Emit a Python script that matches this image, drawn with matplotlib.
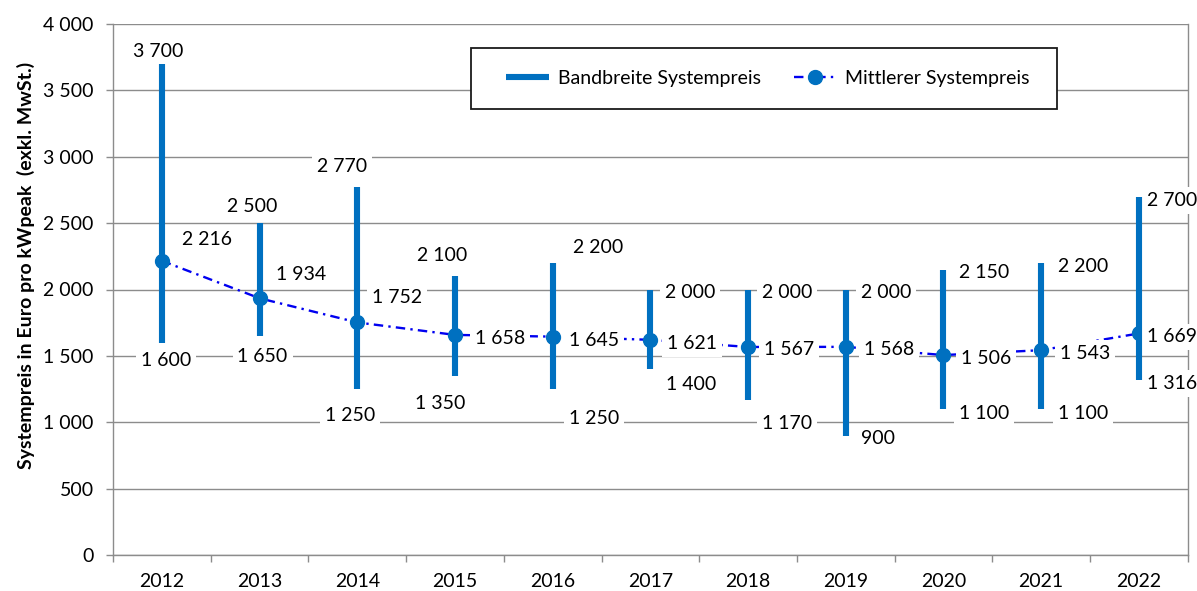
import matplotlib
matplotlib.use("Agg")
import matplotlib.pyplot as plt
from matplotlib.patches import Rectangle
from matplotlib.lines import Line2D
from matplotlib.ticker import FixedLocator, FuncFormatter

# Data: PV system prices in EUR per kWpeak (excl. VAT)
years = ["2012", "2013", "2014", "2015", "2016", "2017", "2018", "2019", "2020", "2021", "2022"]
price_high = [3700, 2500, 2770, 2100, 2200, 2000, 2000, 2000, 2150, 2200, 2700]
price_low = [1600, 1650, 1250, 1350, 1250, 1400, 1170, 900, 1100, 1100, 1316]
price_mean = [2216, 1934, 1752, 1658, 1645, 1621, 1567, 1568, 1506, 1543, 1669]

# Label placement (pixel offsets: dx right, dy down)
hi_off = [(-3.5, -14), (-7, -18.6), (-15, -22), (-13, -22), (45, -16.6), (39.4, 1.5),
          (39.3, 1.5), (40, 1.5), (41, 1.2), (41.6, 2), (33, 2.5)]
mean_off = [(45, -23), (41.5, -25), (40, -26), (45, 2), (41.5, 2.4), (41.4, 2),
            (41.3, 1.3), (43, 1.5), (43, 1.6), (44, 1.5), (33, 2)]
lo_off = [(4, 16), (3, 19), (-7, 25), (-15, 26), (41, 28), (40.7, 13.5),
          (39.3, 22), (32, 1.2), (41, 2.7), (41.6, 2.7), (33, 2)]

BAR_BLUE = "#0070C0"
LINE_BLUE = "#0000F0"
GRID = "#8C8C8C"
FONT = "Lato"
FS = 14

plt.rcParams["font.family"] = [FONT, "DejaVu Sans"]

fig = plt.figure(figsize=(11.97, 5.91), dpi=100)
ax = fig.add_axes([113 / 1197, 1 - 555 / 591, 1074.7 / 1197, 531 / 591])

x = list(range(len(years)))

ax.set_xlim(-0.5, len(years) - 0.5)
ax.set_ylim(0, 4000)

# grid and axes styling
ax.set_yticks(range(0, 4001, 500))
ax.yaxis.set_major_formatter(FuncFormatter(lambda v, p: f"{int(v):,}".replace(",", " ")))
ax.grid(axis="y", color=GRID, linewidth=1.0, zorder=0)
ax.set_axisbelow(True)
for side in ("left", "right", "bottom"):
    ax.spines[side].set_color(GRID)
    ax.spines[side].set_linewidth(1.0)
ax.spines["top"].set_visible(False)

ax.set_xticks(x)
ax.set_xticklabels(years)
ax.xaxis.set_minor_locator(FixedLocator([i - 0.5 for i in range(len(years) + 1)]))
ax.tick_params(axis="x", which="major", length=0, pad=13, labelsize=FS, colors="black")
ax.tick_params(axis="x", which="minor", length=5, width=1.0, color=GRID, direction="out")
ax.tick_params(axis="y", length=5, width=1.0, color=GRID, pad=9, labelsize=FS, labelcolor="black")

ax.set_ylabel("Systempreis in Euro pro kWpeak  (exkl. MwSt.)", fontsize=FS, fontweight="bold")
ax.yaxis.set_label_coords(-0.073, 0.545)

# price range bars (drawn above the label boxes so they stay continuous)
ax.vlines(x, price_low, price_high, colors=BAR_BLUE, linewidth=4.4, capstyle="butt", zorder=6.5)

# mean price line with markers
ax.plot(x, price_mean, color=LINE_BLUE, linewidth=1.7, linestyle=(0, (4, 2.2, 1, 2.2)), zorder=2)
ax.plot(x, price_mean, linestyle="none", marker="o", markersize=10,
        markerfacecolor=BAR_BLUE, markeredgecolor=BAR_BLUE, zorder=4)

def fmt(v):
    return f"{v:,}".replace(",", " ")

box = dict(boxstyle="square,pad=0.25", facecolor="white", edgecolor="none")
for i in x:
    for val, off in ((price_high[i], hi_off[i]), (price_mean[i], mean_off[i]), (price_low[i], lo_off[i])):
        ax.annotate(fmt(val), xy=(i, val), xytext=(off[0], -off[1]), textcoords="offset pixels",
                    ha="center", va="center_baseline", fontsize=FS, color="black",
                    bbox=box, zorder=6, annotation_clip=False)

# legend
frame = Rectangle((0.3328, 0.8399), 0.5453, 0.1143, transform=ax.transAxes,
                  facecolor="white", edgecolor="#1A1A1A", linewidth=1.3, zorder=7)
ax.add_patch(frame)
handles = [
    Line2D([], [], color=BAR_BLUE, linewidth=4.4, solid_capstyle="butt"),
    Line2D([], [], color=LINE_BLUE, linewidth=1.7, linestyle=(0, (4, 2.2, 1, 2.2)),
           marker="o", markersize=10, markerfacecolor=BAR_BLUE, markeredgecolor=BAR_BLUE),
]
leg = ax.legend(handles, ["Bandbreite Systempreis", "Mittlerer Systempreis"], ncol=2,
                loc="center", bbox_to_anchor=(0.6094, 0.897), frameon=False,
                fontsize=FS, handlelength=2.2, handletextpad=0.45, columnspacing=1.7)
leg.set_zorder(8)

fig.savefig("out.png", dpi=100)
